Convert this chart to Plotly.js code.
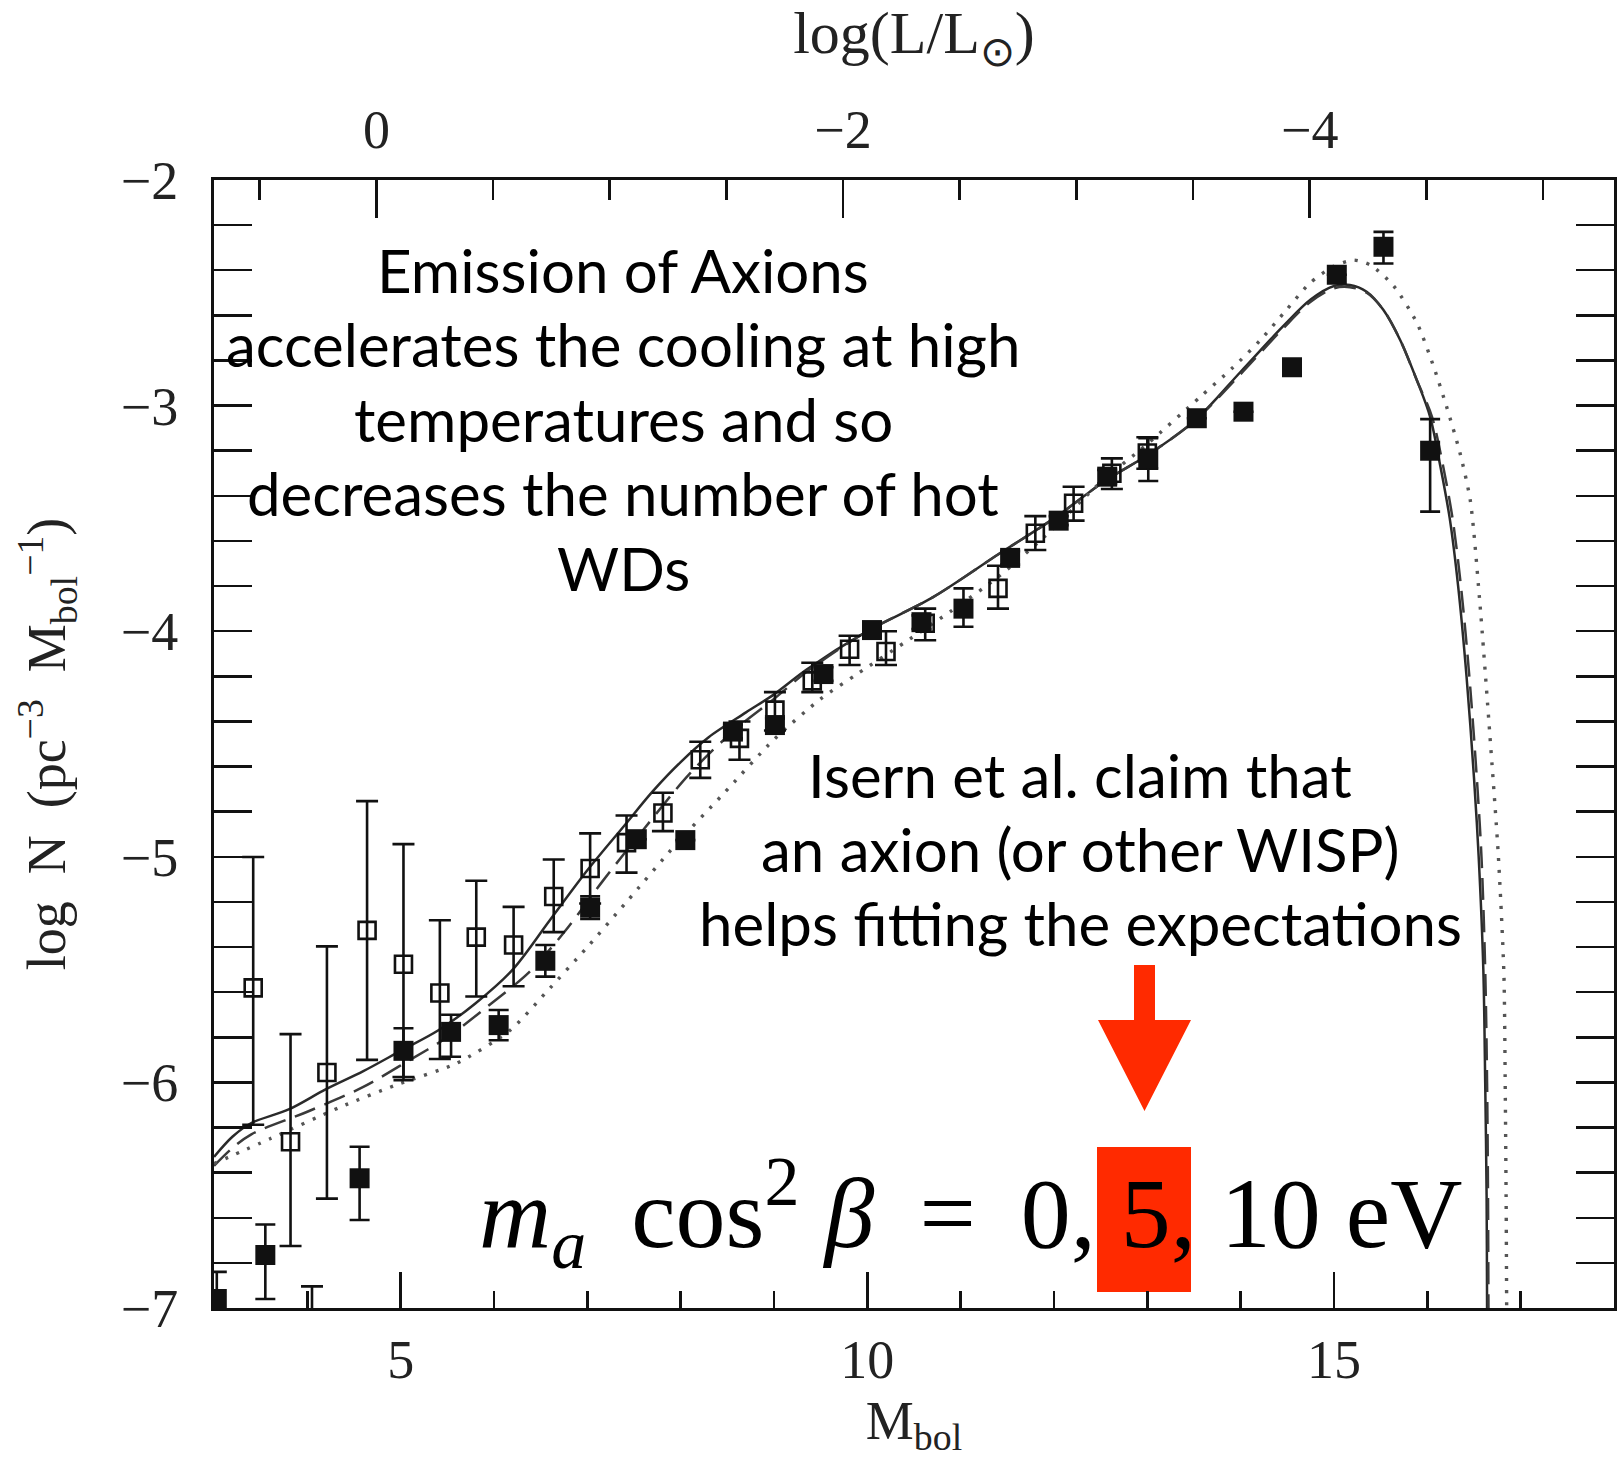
<!DOCTYPE html>
<html>
<head>
<meta charset="utf-8">
<script src="https://cdn.plot.ly/plotly-3.0.1.min.js"></script>
<style>html,body{margin:0;padding:0;background:#fff;} #chart{width:1621px;height:1458px;}</style>
</head>
<body>
<div id="chart"></div>
<script>
// ---------- data ----------
// Filled squares: M_bol, log N, error up, error down
const filledM  = [3.03, 3.55, 4.56, 5.03, 5.54, 6.05, 6.55, 7.03, 7.53, 8.05, 8.56, 9.01, 9.53, 10.05, 10.58, 11.03, 11.53, 12.05, 12.57, 13.01, 13.53, 14.03, 14.55, 15.03, 15.53, 16.03];
const filledN  = [-6.96, -6.765, -6.425, -5.86, -5.776, -5.746, -5.461, -5.225, -4.922, -4.926, -4.445, -4.416, -4.19, -3.995, -3.96, -3.90, -3.675, -3.51, -3.315, -3.234, -3.056, -3.027, -2.83, -2.42, -2.296, -3.20];
const filledUp = [0.12, 0.135, 0.14, 0.10, 0.076, 0.067, 0.07, 0.05, 0, 0, 0.03, 0.03, 0.03, 0.02, 0.03, 0.09, 0.03, 0.02, 0.03, 0.09, 0, 0, 0, 0, 0.066, 0.14];
const filledDn = [0.12, 0.195, 0.185, 0.13, 0.11, 0.067, 0.07, 0.05, 0, 0, 0.03, 0.03, 0.03, 0.02, 0.03, 0.08, 0.03, 0.02, 0.03, 0.10, 0, 0, 0, 0, 0.074, 0.27];

// Open squares
const openM  = [3.42, 3.82, 4.05, 4.21, 4.64, 5.03, 5.42, 5.81, 6.21, 6.64, 7.03, 7.42, 7.81, 8.21, 8.63, 9.01, 9.41, 9.81, 10.20, 10.62, 11.40, 11.80, 12.21, 12.62, 13.00];
const openN  = [-5.581, -6.263, -7.30, -5.956, -5.326, -5.476, -5.604, -5.356, -5.391, -5.176, -5.052, -4.937, -4.806, -4.57, -4.475, -4.35, -4.22, -4.08, -4.09, -3.965, -3.81, -3.566, -3.433, -3.30, -3.21];
const openUp = [0.58, 0.477, 0.396, 0.559, 0.573, 0.532, 0.323, 0.25, 0.169, 0.164, 0.156, 0.12, 0.09, 0.08, 0.075, 0.08, 0.08, 0.06, 0.09, 0.065, 0.10, 0.076, 0.073, 0.066, 0.07];
const openDn = [0.607, 0.462, 0.0, 0.559, 0.574, 0.50, 0.292, 0.263, 0.183, 0.158, 0.155, 0.133, 0.08, 0.08, 0.095, 0.09, 0.05, 0.07, 0.06, 0.075, 0.09, 0.074, 0.077, 0.07, 0.07];

// Model curves (m_a cos^2 beta = 0, 5, 10 eV)
const solidM = [3.0, 3.2, 3.4, 3.8, 4.2, 4.6, 5.0, 5.4, 5.8, 6.2, 6.6, 7.0, 7.4, 7.7, 8.0, 8.3, 8.7, 9.0, 9.35, 10.0, 10.7, 11.4, 12.0, 12.56, 13.0, 13.5, 14.0, 14.45, 14.75, 15.0, 15.17, 15.35, 15.53, 15.71, 15.89, 16.03, 16.14, 16.24, 16.33, 16.42, 16.5, 16.55, 16.6, 16.62, 16.635, 16.64, 16.645];
const solidN = [-6.33, -6.24, -6.18, -6.12, -6.03, -5.95, -5.86, -5.77, -5.65, -5.50, -5.28, -5.06, -4.86, -4.71, -4.58, -4.47, -4.36, -4.28, -4.17, -4.00, -3.85, -3.66, -3.50, -3.33, -3.22, -3.07, -2.85, -2.65, -2.53, -2.47, -2.465, -2.495, -2.576, -2.71, -2.89, -3.05, -3.27, -3.50, -3.80, -4.20, -4.65, -5.0, -5.5, -6.0, -6.5, -7.0, -7.3];

const dashM = [3.0, 3.2, 3.4, 4.0, 4.6, 5.1, 5.5, 5.94, 6.38, 6.76, 7.16, 7.6, 8.1, 8.6, 9.0, 9.35, 10.0, 10.7, 11.4, 12.0, 12.56, 13.0, 13.5, 14.0, 14.45, 14.75, 15.0, 15.17, 15.35, 15.53, 15.71, 15.89, 16.05, 16.17, 16.27, 16.36, 16.45, 16.53, 16.58, 16.62, 16.64, 16.65, 16.655, 16.66];
const dashN = [-6.37, -6.29, -6.23, -6.13, -6.02, -5.90, -5.80, -5.66, -5.51, -5.33, -5.11, -4.88, -4.63, -4.43, -4.30, -4.18, -4.00, -3.85, -3.66, -3.50, -3.33, -3.22, -3.07, -2.86, -2.66, -2.54, -2.48, -2.475, -2.50, -2.576, -2.71, -2.89, -3.05, -3.27, -3.50, -3.80, -4.20, -4.65, -5.0, -5.5, -6.0, -6.5, -7.0, -7.3];

const dotM = [3.0, 3.6, 4.35, 4.96, 5.6, 6.17, 6.56, 7.0, 7.42, 7.96, 8.46, 9.0, 9.5, 9.89, 10.4, 10.9, 11.4, 11.9, 12.5, 13.0, 13.57, 13.92, 14.21, 14.49, 14.74, 14.99, 15.21, 15.39, 15.64, 15.89, 16.07, 16.21, 16.35, 16.46, 16.56, 16.67, 16.76, 16.82, 16.835, 16.845, 16.85, 16.855];
const dotN = [-6.36, -6.25, -6.11, -6.01, -5.915, -5.77, -5.60, -5.40, -5.20, -4.94, -4.72, -4.48, -4.30, -4.19, -4.05, -3.91, -3.76, -3.58, -3.34, -3.17, -2.96, -2.83, -2.71, -2.576, -2.458, -2.384, -2.355, -2.377, -2.47, -2.635, -2.83, -3.01, -3.21, -3.42, -3.86, -4.46, -4.99, -5.515, -6.04, -6.567, -7.0, -7.3];

// Axes
const xRange = [3, 18];
const yRange = [-7, -2];
const xTicks = [5, 10, 15];
const yTicks = [-7, -6, -5, -4, -3, -2];
const logLTicks = [0, -2, -4];
const MsunBol = 4.74;   // M_bol of the Sun, links the two x axes

// Texts
const textLeft = ["Emission of Axions", "accelerates the cooling at high", "temperatures and so", "decreases the number of hot", "WDs"];
const textRight = ["Isern et al. claim that", "an axion (or other WISP)", "helps fitting the expectations"];

// ---------- layout helpers (pixel -> paper, plot area 214..1614 x 180..1308) ----------
const PL = 214, PR = 1614, PT = 180, PB = 1308;
const px = v => (v - PL) / (PR - PL);
const py = v => (PB - v) / (PB - PT);

const ink = '#111';
const serif = 'Liberation Serif, Times New Roman, serif';
const sans = 'Lato, Open Sans, sans-serif';

const traces = [
  {x: solidM, y: solidN, mode: 'lines', line: {color: '#2a2a2a', width: 2.5, shape: 'spline', smoothing: 0.9}, hoverinfo: 'skip', name: '0 eV'},
  {x: dashM, y: dashN, mode: 'lines', line: {color: '#3a3a3a', width: 2.5, dash: '22px,10px', shape: 'spline', smoothing: 0.9}, hoverinfo: 'skip', name: '5 eV'},
  {x: dotM, y: dotN, mode: 'lines', line: {color: '#555', width: 3.4, dash: '3px,9px', shape: 'spline', smoothing: 0.7}, hoverinfo: 'skip', name: '10 eV'},
  {x: openM, y: openN, mode: 'markers', name: 'open',
   marker: {symbol: 'square-open', size: 17, color: ink, line: {width: 2.6, color: ink}},
   error_y: {type: 'data', symmetric: false, array: openUp, arrayminus: openDn, color: ink, thickness: 2.6, width: 11}},
  {x: filledM, y: filledN, mode: 'markers', name: 'filled',
   marker: {symbol: 'square', size: 20, color: ink},
   error_y: {type: 'data', symmetric: false, array: filledUp, arrayminus: filledDn, color: ink, thickness: 2.6, width: 10}},
  {x: logLTicks, y: logLTicks.map(() => null), xaxis: 'x2', yaxis: 'y', mode: 'markers', hoverinfo: 'skip', showlegend: false}
];

const tickFont = {family: serif, size: 54, color: '#222'};

function lineAnn(text, cx, baseline, size) {
  return {text: text, xref: 'paper', yref: 'paper', x: px(cx), y: py(baseline - 0.387 * size),
          xanchor: 'center', yanchor: 'middle', showarrow: false, borderpad: 0,
          font: {family: sans, size: size, color: '#000'}};
}

const annotations = [];
const leftBase = [293, 367.5, 442, 516.5, 591];
textLeft.forEach((t, i) => annotations.push(lineAnn(t, 623, leftBase[i], 60)));
const rightBase = [798, 872, 946];
textRight.forEach((t, i) => annotations.push(lineAnn(t, 1080, rightBase[i], 60)));
annotations.push({
  text: '<i>m</i><sub><i>a</i></sub>\u2009 cos<sup>2</sup> <i>β</i> \u2009=\u2009 0, 5, 10 eV',
  xref: 'paper', yref: 'paper', x: px(478), y: py(1213), xanchor: 'left', yanchor: 'middle',
  showarrow: false, borderpad: 0, font: {family: serif, size: 100, color: '#000'}
});

const red = '#ff2a00';
const shapes = [
  {type: 'rect', xref: 'paper', yref: 'paper', x0: px(1097), x1: px(1191), y0: py(1292), y1: py(1147),
   fillcolor: red, line: {width: 0}, layer: 'below'},
  {type: 'path', xref: 'paper', yref: 'paper',
   path: 'M ' + px(1134) + ',' + py(965) + ' L ' + px(1155) + ',' + py(965) + ' L ' + px(1155) + ',' + py(1020) +
         ' L ' + px(1191) + ',' + py(1020) + ' L ' + px(1144.5) + ',' + py(1111) + ' L ' + px(1098) + ',' + py(1020) +
         ' L ' + px(1134) + ',' + py(1020) + ' Z',
   fillcolor: red, line: {width: 0}, layer: 'above'}
];

const layout = {
  width: 1621, height: 1458,
  margin: {l: PL, r: 1621 - PR, t: PT, b: 1458 - PB, pad: 0},
  paper_bgcolor: '#fff', plot_bgcolor: '#fff',
  showlegend: false,
  xaxis: {
    range: xRange, tickvals: xTicks, ticks: 'inside', ticklen: 36, tickwidth: 2.5, tickcolor: ink,
    minor: {dtick: 1, tick0: 0, ticks: 'inside', ticklen: 17, tickwidth: 2.5, tickcolor: ink},
    showline: true, linewidth: 3, linecolor: ink, showgrid: false, zeroline: false,
    tickfont: tickFont, ticklabelstandoff: 2,
    title: {text: 'M<sub>bol</sub>', font: {family: serif, size: 54, color: '#222'}, standoff: 26}
  },
  xaxis2: {
    overlaying: 'x', side: 'top',
    range: [(MsunBol - xRange[0]) / 2.5, (MsunBol - xRange[1]) / 2.5],
    tickvals: logLTicks, ticks: 'inside', ticklen: 38, tickwidth: 2.5, tickcolor: ink,
    minor: {dtick: 0.5, tick0: 0, ticks: 'inside', ticklen: 20, tickwidth: 2.5, tickcolor: ink},
    showline: true, linewidth: 3, linecolor: ink, showgrid: false, zeroline: false,
    tickfont: tickFont, ticklabelstandoff: 7,
    title: {text: 'log(L/L<sub>⊙</sub>)', font: {family: serif, size: 60, color: '#222'}, standoff: 44}
  },
  yaxis: {
    range: yRange, tickvals: yTicks, ticks: 'inside', ticklen: 38, tickwidth: 2.5, tickcolor: ink,
    minor: {dtick: 0.2, tick0: 0, ticks: 'inside', ticklen: 20, tickwidth: 2.5, tickcolor: ink},
    showline: true, linewidth: 3, linecolor: ink, mirror: 'allticks', showgrid: false, zeroline: false,
    tickfont: tickFont, ticklabelstandoff: 22,
    title: {text: 'log\u2002N\u2002(pc<sup>−3</sup>\u2002M<sub>bol</sub><sup>−1</sup>)', font: {family: serif, size: 54, color: '#222'}, standoff: 38}
  },
  annotations: annotations,
  shapes: shapes
};

Plotly.newPlot('chart', traces, layout, {staticPlot: true, displayModeBar: false});
</script>
</body>
</html>
